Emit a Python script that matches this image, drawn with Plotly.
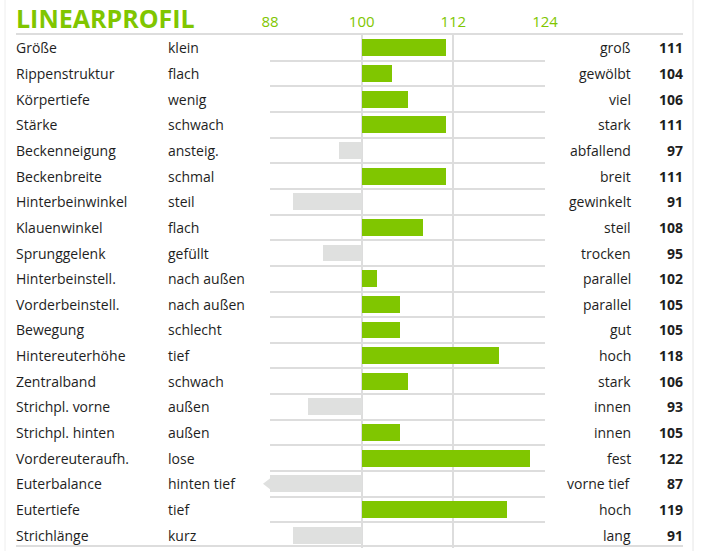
import plotly.graph_objects as go

merkmale = ["Größe", "Rippenstruktur", "Körpertiefe", "Stärke", "Beckenneigung", "Beckenbreite",
            "Hinterbeinwinkel", "Klauenwinkel", "Sprunggelenk", "Hinterbeinstell.", "Vorderbeinstell.",
            "Bewegung", "Hintereuterhöhe", "Zentralband", "Strichpl. vorne", "Strichpl. hinten",
            "Vordereuteraufh.", "Euterbalance", "Eutertiefe", "Strichlänge"]
links = ["klein", "flach", "wenig", "schwach", "ansteig.", "schmal", "steil", "flach", "gefüllt",
         "nach außen", "nach außen", "schlecht", "tief", "schwach", "außen", "außen", "lose",
         "hinten tief", "tief", "kurz"]
rechts = ["groß", "gewölbt", "viel", "stark", "abfallend", "breit", "gewinkelt", "steil", "trocken",
          "parallel", "parallel", "gut", "hoch", "stark", "innen", "innen", "fest", "vorne tief",
          "hoch", "lang"]
werte = [111, 104, 106, 111, 97, 111, 91, 108, 95, 102, 105, 105, 118, 106, 93, 105, 122, 87, 119, 91]
ticks = [88, 100, 112, 124]

GRUEN = "#80c600"
GRAU = "#dfe0df"
LINIE = "#dddddd"
TEXT = "#1e1e1e"
FONT = "Open Sans"

W, H = 701, 551
L, R, T, B = 270, 156, 35, 3
plot_w = W - L - R
plot_h = H - T - B

def px(x):
    # pixel -> paper x
    return (x - L) / plot_w

def py(y):
    # pixel -> paper y
    return (H - B - y) / plot_h

zeilen = list(range(len(werte)))
farben = [GRUEN if v >= 100 else GRAU for v in werte]

fig = go.Figure()
fig.add_trace(go.Bar(
    y=zeilen, x=[v - 100 for v in werte], base=100, orientation="h",
    marker=dict(color=farben, line=dict(width=0)), width=0.66, hoverinfo="skip"))

# Pfeil fuer Werte ausserhalb der Skala
unter = [i for i, v in enumerate(werte) if v < ticks[0]]
fig.add_trace(go.Scatter(
    y=unter, x=[ticks[0]] * len(unter), mode="markers", cliponaxis=False,
    marker=dict(symbol="triangle-left", size=14, color=GRAU, line=dict(width=0)),
    hoverinfo="skip"))

anns = [dict(text="<b>LINEARPROFIL</b>", x=px(14), y=py(18), xref="paper", yref="paper",
             xanchor="left", yanchor="middle", showarrow=False,
             font=dict(family=FONT, size=25, color=GRUEN))]
for i in zeilen:
    anns.append(dict(text=merkmale[i], x=px(14), y=i, xref="paper", yref="y", xanchor="left",
                     showarrow=False, font=dict(family=FONT, size=14, color=TEXT)))
    anns.append(dict(text=links[i], x=px(166), y=i, xref="paper", yref="y", xanchor="left",
                     showarrow=False, font=dict(family=FONT, size=14, color=TEXT)))
    anns.append(dict(text=rechts[i], x=px(633), y=i, xref="paper", yref="y", xanchor="right",
                     showarrow=False, font=dict(family=FONT, size=14, color=TEXT)))
    anns.append(dict(text="<b>%d</b>" % werte[i], x=px(685), y=i, xref="paper", yref="y",
                     xanchor="right", showarrow=False, font=dict(family=FONT, size=14, color=TEXT)))

shapes = [
    dict(type="line", xref="paper", yref="paper", x0=px(16), x1=px(683), y0=py(34), y1=py(34),
         line=dict(color=LINIE, width=2)),
    dict(type="line", xref="paper", yref="paper", x0=px(16), x1=px(683), y0=py(546), y1=py(546),
         line=dict(color=LINIE, width=2)),
    dict(type="line", xref="paper", yref="paper", x0=px(5), x1=px(5), y0=py(0), y1=py(551),
         line=dict(color="#eeeeee", width=1)),
    dict(type="line", xref="paper", yref="paper", x0=px(693), x1=px(693), y0=py(0), y1=py(551),
         line=dict(color="#e6e6e6", width=1)),
]

fig.update_layout(
    width=W, height=H, margin=dict(l=L, r=R, t=T, b=B),
    paper_bgcolor="white", plot_bgcolor="white", showlegend=False,
    annotations=anns, shapes=shapes, bargap=0,
)
fig.update_xaxes(range=[ticks[0], ticks[-1]], tickvals=ticks, side="top", showgrid=True,
                 gridcolor=LINIE, gridwidth=2, zeroline=False, showline=False, ticks="",
                 ticklabelstandoff=4,
                 tickfont=dict(family=FONT, size=15, color=GRUEN), fixedrange=True)
fig.update_yaxes(range=[len(werte) - 0.5, -0.5], tickvals=[i + 0.5 for i in zeilen[:-1]],
                 showticklabels=False, showgrid=True, gridcolor=LINIE, gridwidth=2,
                 zeroline=False, showline=False, ticks="", fixedrange=True)

fig.write_html("out.html", config={"displayModeBar": False},
               post_script="document.body.style.margin='0px';")
